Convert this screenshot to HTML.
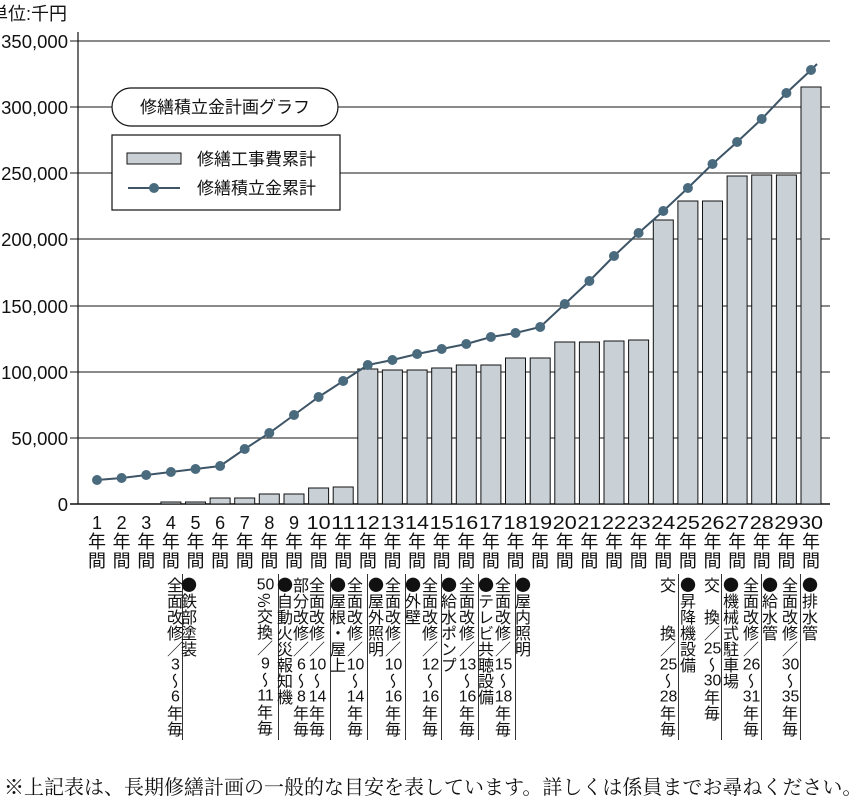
<!DOCTYPE html>
<html><head><meta charset="utf-8"><style>
body{margin:0;background:#fff;width:857px;height:803px;overflow:hidden;position:relative;font-family:"Liberation Sans","Noto Sans CJK JP",sans-serif;}
svg{position:absolute;left:0;top:0}
.ann{position:absolute;top:577px;writing-mode:vertical-rl;font-size:16px;line-height:17px;letter-spacing:0px;color:#111;white-space:nowrap;font-family:"Noto Sans CJK JP",sans-serif;}
.tcu{text-combine-upright:all;font-family:"Liberation Sans",sans-serif;}
.vl{position:absolute;top:574px;height:166px;width:1.3px;background:#333;}
.foot{position:absolute;left:4px;top:771px;font-size:20px;font-family:"Liberation Serif","Noto Serif CJK SC",serif;white-space:nowrap;color:#111;}
</style></head><body>
<svg width="857" height="803" viewBox="0 0 857 803">
<g stroke="#444" stroke-width="1.2">
<line x1="70" y1="41" x2="830" y2="41"/><line x1="70" y1="107" x2="830" y2="107"/>
<line x1="70" y1="173" x2="830" y2="173"/><line x1="70" y1="239" x2="830" y2="239"/>
<line x1="70" y1="306" x2="830" y2="306"/><line x1="70" y1="372" x2="830" y2="372"/>
<line x1="70" y1="438" x2="830" y2="438"/><line x1="70" y1="504" x2="830" y2="504" stroke="#111" stroke-width="1.5"/>
<line x1="78" y1="32" x2="78" y2="504" stroke="#111"/>
</g>
<g font-size="18.5" fill="#111" text-anchor="end">
<text x="68" y="48">350,000</text><text x="68" y="114">300,000</text><text x="68" y="180">250,000</text>
<text x="68" y="246">200,000</text><text x="68" y="313">150,000</text><text x="68" y="379">100,000</text>
<text x="68" y="445">50,000</text><text x="68" y="511">0</text>
</g>
<text x="-10" y="20" font-size="18" fill="#111">単位:千円</text>
<g fill="#c9d1d7" stroke="#111" stroke-width="1">
<rect x="160.9" y="502" width="20" height="2"/><rect x="185.5" y="502" width="20" height="2"/>
<rect x="210.1" y="498" width="20" height="6"/><rect x="234.7" y="498" width="20" height="6"/>
<rect x="259.3" y="494" width="20" height="10"/><rect x="284" y="494" width="20" height="10"/>
<rect x="308.6" y="488" width="20" height="16"/><rect x="333.2" y="487" width="20" height="17"/>
<rect x="357.8" y="369" width="20" height="135"/><rect x="382.4" y="370" width="20" height="134"/>
<rect x="407.1" y="370" width="20" height="134"/><rect x="431.7" y="368" width="20" height="136"/>
<rect x="456.3" y="365" width="20" height="139"/><rect x="480.9" y="365" width="20" height="139"/>
<rect x="505.5" y="358" width="20" height="146"/><rect x="530.2" y="358" width="20" height="146"/>
<rect x="554.8" y="342" width="20" height="162"/><rect x="579.4" y="342" width="20" height="162"/>
<rect x="604" y="341" width="20" height="163"/><rect x="628.6" y="340" width="20" height="164"/>
<rect x="653.3" y="220" width="20" height="284"/><rect x="677.9" y="201" width="20" height="303"/>
<rect x="702.5" y="201" width="20" height="303"/><rect x="727.1" y="176" width="20" height="328"/>
<rect x="751.7" y="175" width="20" height="329"/><rect x="776.4" y="175" width="20" height="329"/>
<rect x="801" y="87" width="20" height="417"/>
</g>
<polyline fill="none" stroke="#3d5566" stroke-width="2" points="97,480 121.6,478 146.2,475 170.9,472 195.5,469 220.1,466 244.7,449 269.3,433 294,415 318.6,397 343.2,381 367.8,365 392.4,360 417.1,354 441.7,349 466.3,344 490.9,337 515.5,333 540.2,327 564.8,304 589.4,281 614,256 638.6,233 663.3,211 687.9,188 712.5,164 737.1,142 761.7,119 786.4,93 811,70 817,64"/>
<g fill="#4a6a7e">
<circle cx="97" cy="480" r="5"/><circle cx="121.6" cy="478" r="5"/><circle cx="146.2" cy="475" r="5"/><circle cx="170.9" cy="472" r="5"/><circle cx="195.5" cy="469" r="5"/><circle cx="220.1" cy="466" r="5"/><circle cx="244.7" cy="449" r="5"/><circle cx="269.3" cy="433" r="5"/><circle cx="294" cy="415" r="5"/><circle cx="318.6" cy="397" r="5"/><circle cx="343.2" cy="381" r="5"/><circle cx="367.8" cy="365" r="5"/><circle cx="392.4" cy="360" r="5"/><circle cx="417.1" cy="354" r="5"/><circle cx="441.7" cy="349" r="5"/><circle cx="466.3" cy="344" r="5"/><circle cx="490.9" cy="337" r="5"/><circle cx="515.5" cy="333" r="5"/><circle cx="540.2" cy="327" r="5"/><circle cx="564.8" cy="304" r="5"/><circle cx="589.4" cy="281" r="5"/><circle cx="614" cy="256" r="5"/><circle cx="638.6" cy="233" r="5"/><circle cx="663.3" cy="211" r="5"/><circle cx="687.9" cy="188" r="5"/><circle cx="712.5" cy="164" r="5"/><circle cx="737.1" cy="142" r="5"/><circle cx="761.7" cy="119" r="5"/><circle cx="786.4" cy="93" r="5"/><circle cx="811" cy="70" r="5"/>
</g>
<rect x="112" y="88" width="226" height="38" rx="19" fill="#fff" stroke="#111" stroke-width="1.2"/>
<text x="225" y="113" font-size="17" text-anchor="middle" fill="#111">修繕積立金計画グラフ</text>
<rect x="112" y="135" width="228" height="75" fill="#fff" stroke="#111" stroke-width="1.2"/>
<rect x="127" y="153" width="54" height="11" fill="#c9d1d7" stroke="#111"/>
<text x="197" y="165" font-size="17" fill="#111">修繕工事費累計</text>
<line x1="128" y1="188" x2="180" y2="188" stroke="#3d5566" stroke-width="2"/>
<circle cx="154" cy="188" r="5" fill="#4a6a7e"/>
<text x="197" y="194" font-size="17" fill="#111">修繕積立金累計</text>
<g font-size="18" fill="#111" text-anchor="middle" id="xl"></g>
</svg>
<script>
var g=document.getElementById('xl'),s='';
for(var i=0;i<30;i++){var x=97+24.62*i,n=i+1;
s+='<text x="'+x+'" y="529"'+(n>=10?' textLength="24" lengthAdjust="spacingAndGlyphs"':'')+'>'+n+'</text><text x="'+x+'" y="548">年</text><text x="'+x+'" y="567">間</text>';}
g.innerHTML=s;
</script>
<div class="ann" style="left:166px">全面改修／<span class="tcu">3</span>〜<span class="tcu">6</span>年毎</div>
<div class="vl" style="left:182px"></div>
<div class="ann" style="left:180px">●鉄部塗装</div>
<div class="ann" style="left:256px"><span class="tcu">50</span>%交換／<span class="tcu">9</span>〜<span class="tcu">11</span>年毎</div>
<div class="vl" style="left:278px"></div>
<div class="ann" style="left:276px">●自動火災報知機</div>
<div class="ann" style="left:292px">部分改修／<span class="tcu">6</span>〜<span class="tcu">8</span>年毎</div>
<div class="ann" style="left:308px">全面改修／<span class="tcu">10</span>〜<span class="tcu">14</span>年毎</div>
<div class="vl" style="left:330px"></div>
<div class="ann" style="left:329px">●屋根・屋上</div>
<div class="ann" style="left:346px">全面改修／<span class="tcu">10</span>〜<span class="tcu">14</span>年毎</div>
<div class="vl" style="left:367px"></div>
<div class="ann" style="left:367px">●屋外照明</div>
<div class="ann" style="left:384px">全面改修／<span class="tcu">10</span>〜<span class="tcu">16</span>年毎</div>
<div class="vl" style="left:405px"></div>
<div class="ann" style="left:404px">●外壁</div>
<div class="ann" style="left:421px">全面改修／<span class="tcu">12</span>〜<span class="tcu">16</span>年毎</div>
<div class="vl" style="left:441px"></div>
<div class="ann" style="left:440px">●給水ポンプ</div>
<div class="ann" style="left:458px">全面改修／<span class="tcu">13</span>〜<span class="tcu">16</span>年毎</div>
<div class="vl" style="left:478px"></div>
<div class="ann" style="left:477px">●テレビ共聴設備</div>
<div class="ann" style="left:494px">全面改修／<span class="tcu">15</span>〜<span class="tcu">18</span>年毎</div>
<div class="vl" style="left:515px"></div>
<div class="ann" style="left:514px">●屋内照明</div>
<div class="ann" style="left:659px">交　　換／<span class="tcu">25</span>〜<span class="tcu">28</span>年毎</div>
<div class="vl" style="left:678px"></div>
<div class="ann" style="left:679px">●昇降機設備</div>
<div class="ann" style="left:703px">交　換／<span class="tcu">25</span>〜<span class="tcu">30</span>年毎</div>
<div class="vl" style="left:721px"></div>
<div class="ann" style="left:722px">●機械式駐車場</div>
<div class="ann" style="left:742px">全面改修／<span class="tcu">26</span>〜<span class="tcu">31</span>年毎</div>
<div class="vl" style="left:761px"></div>
<div class="ann" style="left:761px">●給水管</div>
<div class="ann" style="left:781px">全面改修／<span class="tcu">30</span>〜<span class="tcu">35</span>年毎</div>
<div class="vl" style="left:800px"></div>
<div class="ann" style="left:801px">●排水管</div>
<div class="foot">※上記表は、長期修繕計画の一般的な目安を表しています。詳しくは係員までお尋ねください。</div>
</body></html>
